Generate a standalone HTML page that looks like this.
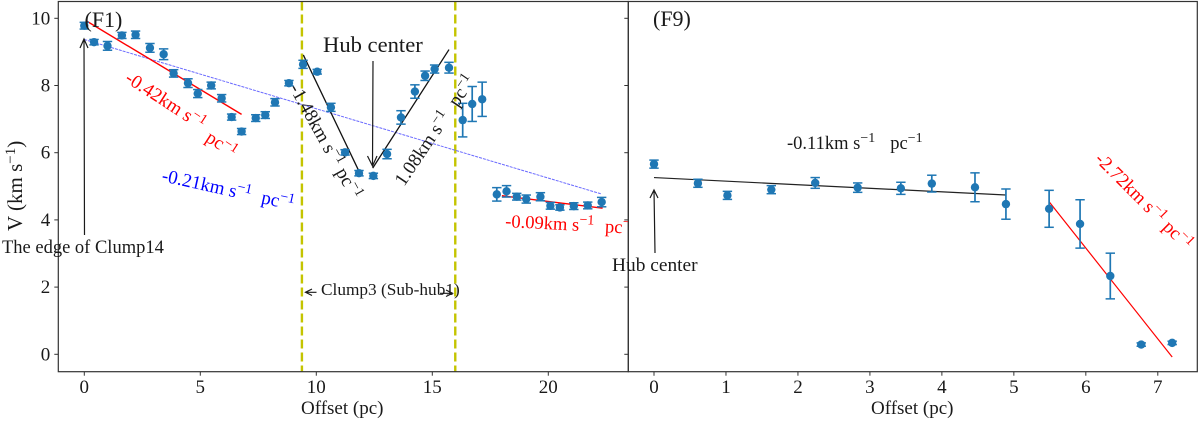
<!DOCTYPE html>
<html lang="en">
<head>
<meta charset="utf-8">
<title>Velocity profiles F1 and F9</title>
<style>
html,body{margin:0;padding:0;background:#fff;width:1200px;height:421px;overflow:hidden}
svg{display:block;filter:blur(0.35px)}
text{font-family:"Liberation Serif","DejaVu Serif",serif;fill:#1a1a1a}
</style>
</head>
<body>
<svg id="chart" xmlns="http://www.w3.org/2000/svg" width="1200" height="421" viewBox="0 0 1200 421">
  <defs>
    <clipPath id="leftClip"><rect x="58" y="0" width="570" height="372"/></clipPath>
  </defs>
  <rect x="0" y="0" width="1200" height="421" fill="#fff"/>
  <g id="marks"></g>

  <g clip-path="url(#leftClip)">
    <text transform="translate(124,81) rotate(33)" font-size="19" style="fill:#f00">-0.42km s<tspan dy="-7" font-size="14">−1</tspan><tspan dy="13" dx="9">pc</tspan><tspan dy="-6" font-size="14">−1</tspan></text>
    <text transform="translate(161,181) rotate(12.5)" font-size="19" style="fill:#00f">-0.21km s<tspan dy="-7" font-size="14">−1</tspan><tspan dy="7" dx="11">pc</tspan><tspan dy="-7" font-size="14">−1</tspan></text>
    <text transform="translate(289,88) rotate(61)" font-size="19">-1.48km s<tspan dy="-7" font-size="14">−1</tspan><tspan dy="7" dx="5">pc</tspan><tspan dy="-7" font-size="14">−1</tspan></text>
    <text transform="translate(404,187) rotate(-56)" font-size="19">1.08km s<tspan dy="-7" font-size="14">−1</tspan><tspan dy="7" dx="11">pc</tspan><tspan dy="-7" font-size="14">−1</tspan></text>
    <text transform="translate(505,227) rotate(3)" font-size="18.5" style="fill:#f00">-0.09km s<tspan dy="-7" font-size="14">−1</tspan><tspan dy="7" dx="11">pc</tspan><tspan dy="-7" font-size="14">−1</tspan></text>
    <text x="323" y="52" font-size="22.6">Hub center</text>
    <text x="321" y="295" font-size="17.3">Clump3 (Sub-hub1)</text>
    <text x="84.5" y="27" font-size="22">(F1)</text>
  </g>

  <g>
    <text x="653" y="26" font-size="22">(F9)</text>
    <text x="787" y="149" font-size="18.5">-0.11km s<tspan dy="-7" font-size="14">−1</tspan><tspan dy="7" dx="15">pc</tspan><tspan dy="-7" font-size="14">−1</tspan></text>
    <text transform="translate(1094,160) rotate(45)" font-size="19" style="fill:#f00">-2.72km s<tspan dy="-7" font-size="14">−1</tspan><tspan dy="7" dx="5">pc</tspan><tspan dy="-7" font-size="14">−1</tspan></text>
    <text x="612" y="271" font-size="19.4">Hub center</text>
  </g>

  <text x="2" y="253" font-size="18.5">The edge of Clump14</text>

  <g fill="none" stroke="#1a1a1a" stroke-width="1.2">
    <path d="M84.5 235 L84 39 M80 48 L84 39 L88 48"/>
    <path d="M373 61 L372.5 166 M367.5 156 L372.5 166 L377 156"/>
    <path d="M655 253 L654 190 M650 198 L654 190 L658 198"/>
    <path d="M316.5 292.3 L305.5 292.3 M312 289 L305.5 292.3 L312 295.5"/>
    <path d="M440 293.3 L452.5 293.3 M446 290 L452.5 293.3 L446 296.5"/>
  </g>

  <text transform="translate(22,231) rotate(-90)" font-size="21">V (km s<tspan dy="-7" font-size="15">−1</tspan><tspan dy="7">)</tspan></text>
  <text x="301" y="414" font-size="19">Offset (pc)</text>
  <text x="871" y="414" font-size="19">Offset (pc)</text>
</svg>

<script>
// Panel F1 data
const f1Offsets = [0,0.42,1.0,1.62,2.21,2.83,3.42,3.85,4.47,4.89,5.47,5.92,6.35,6.78,7.39,7.8,8.22,8.82,9.43,10.04,10.63,11.24,11.84,12.46,13.05,13.65,14.25,14.69,15.1,15.72,16.31,16.72,17.15,17.78,18.2,18.64,19.05,19.66,20.09,20.5,21.1,21.7,22.3];
const f1Velocities = [9.78,9.29,9.18,9.49,9.51,9.12,8.93,8.36,8.07,7.76,8.0,7.62,7.06,6.63,7.03,7.12,7.5,8.07,8.63,8.41,7.35,6.01,5.39,5.31,5.96,7.05,7.82,8.29,8.49,8.53,6.97,7.45,7.59,4.76,4.85,4.69,4.62,4.69,4.42,4.37,4.41,4.43,4.53];
const f1Errors = [0.1,0.08,0.13,0.09,0.11,0.13,0.16,0.11,0.13,0.12,0.1,0.11,0.09,0.09,0.1,0.1,0.11,0.08,0.12,0.07,0.12,0.08,0.08,0.08,0.14,0.2,0.2,0.14,0.12,0.16,0.5,0.52,0.51,0.2,0.17,0.1,0.12,0.12,0.1,0.08,0.1,0.1,0.14];

// Panel F9 data
const f9Offsets = [0,0.61,1.02,1.63,2.24,2.83,3.43,3.86,4.46,4.89,5.49,5.92,6.34,6.77,7.2];
const f9Velocities = [5.66,5.09,4.73,4.9,5.1,4.96,4.94,5.08,4.97,4.47,4.33,3.88,2.33,0.29,0.34];
const f9Errors = [0.12,0.12,0.12,0.12,0.16,0.14,0.18,0.25,0.43,0.45,0.55,0.72,0.68,0.05,0.05];

// Fit lines: [x0, x1] and [v0, v1] in data units
const fitRedSteepX = [0.07,6.78];
const fitRedSteepV = [9.93,7.14];
const fitBlueX = [0,22.3];
const fitBlueV = [9.37,4.77];
const fitRedFlatX = [18.0,22.34];
const fitRedFlatV = [4.72,4.35];
const fitBlackDownX = [9.44,11.81];
const fitBlackDownV = [8.91,5.49];
const fitBlackUpX = [12.43,15.72];
const fitBlackUpV = [5.54,9.07];
const fitF9BlackX = [0,4.89];
const fitF9BlackV = [5.26,4.74];
const fitF9RedX = [5.49,7.2];
const fitF9RedV = [4.54,-0.08];

// Clump3 boundaries in pc
const clumpBounds = [9.38,15.99];

// Tick labels
const yTicks = [0,2,4,6,8,10];
const f1XTicks = [0,5,10,15,20];
const f9XTicks = [0,1,2,3,4,5,6,7];

const NS = 'http://www.w3.org/2000/svg';
const root = document.getElementById('marks');

const xF1 = v => 84.3 + 23.2 * v;
const xF9 = v => 654 + 71.97 * v;
const yV = v => 354.3 - 33.6 * v;

const TOP = 1.5, BOTTOM = 371.7, LEFT = 58.3, MID = 628.3, RIGHT = 1197.3;
const POINT = '#1f77b4';

function line(x1, y1, x2, y2, stroke, width) {
  const el = document.createElementNS(NS, 'line');
  el.setAttribute('x1', x1);
  el.setAttribute('y1', y1);
  el.setAttribute('x2', x2);
  el.setAttribute('y2', y2);
  el.setAttribute('stroke', stroke);
  el.setAttribute('stroke-width', width);
  root.appendChild(el);
  return el;
}

function label(x, y, str, anchor) {
  const el = document.createElementNS(NS, 'text');
  el.setAttribute('x', x);
  el.setAttribute('y', y);
  el.setAttribute('font-size', '19');
  el.setAttribute('text-anchor', anchor);
  el.textContent = str;
  root.appendChild(el);
  return el;
}

function drawFit(xs, vs, xFn, stroke, width, name) {
  const el = line(xFn(xs[0]), yV(vs[0]), xFn(xs[1]), yV(vs[1]), stroke, width);
  
  
  return el;
}

function drawSeries(xs, vs, es, xFn, panel) {
  xs.forEach((x, i) => {
    const cx = xFn(x);
    const top = yV(vs[i] + es[i]);
    const bot = yV(vs[i] - es[i]);
    const bar = line(cx, top, cx, bot, POINT, 1.7);
    
    
    const capTop = line(cx - 4.7, top, cx + 4.7, top, POINT, 1.5);
    
    
    const capBot = line(cx - 4.7, bot, cx + 4.7, bot, POINT, 1.5);
    
    
    const dot = document.createElementNS(NS, 'circle');
    dot.setAttribute('cx', cx);
    dot.setAttribute('cy', yV(vs[i]));
    dot.setAttribute('r', 4.2);
    dot.setAttribute('fill', POINT);
    
    
    root.appendChild(dot);
  });
}

// Clump boundaries
clumpBounds.forEach(b => {
  const el = line(xF1(b), TOP, xF1(b), BOTTOM, '#c4c400', 2.4);
  el.setAttribute('stroke-dasharray', '9 4');
  
  
});

// Fit lines, panel F1
const blueFit = drawFit(fitBlueX, fitBlueV, xF1, '#6a6aff', 1, 'fit-line-blue');
blueFit.setAttribute('stroke-dasharray', '3 1');
drawFit(fitRedSteepX, fitRedSteepV, xF1, '#f00', 1.4, 'fit-line-red-steep');
drawFit(fitRedFlatX, fitRedFlatV, xF1, '#f00', 1.4, 'fit-line-red-flat');
drawFit(fitBlackDownX, fitBlackDownV, xF1, '#111', 1.3, 'fit-line-black-down');
drawFit(fitBlackUpX, fitBlackUpV, xF1, '#111', 1.3, 'fit-line-black-up');

// Fit lines, panel F9
drawFit(fitF9BlackX, fitF9BlackV, xF9, '#222', 1.2, 'fit-line-f9-black');
drawFit(fitF9RedX, fitF9RedV, xF9, '#f00', 1.2, 'fit-line-f9-red');

drawSeries(f1Offsets, f1Velocities, f1Errors, xF1, 'f1');
drawSeries(f9Offsets, f9Velocities, f9Errors, xF9, 'f9');

// Axes
yTicks.forEach(t => {
  const a = line(LEFT - 4, yV(t), LEFT, yV(t), '#333', 1);
  
  
  const b = line(MID - 4, yV(t), MID, yV(t), '#333', 1);
  
  
  const l = label(LEFT - 8, yV(t) + 6, String(t), 'end');
  
  
});
f1XTicks.forEach(t => {
  const a = line(xF1(t), BOTTOM, xF1(t), BOTTOM + 4, '#333', 1);
  
  
  const l = label(xF1(t), 393, String(t), 'middle');
  
  
});
f9XTicks.forEach(t => {
  const a = line(xF9(t), BOTTOM, xF9(t), BOTTOM + 4, '#333', 1);
  
  
  const l = label(xF9(t), 393, String(t), 'middle');
  
  
});

// Panel frames
const frameLeft = document.createElementNS(NS, 'rect');
frameLeft.setAttribute('x', LEFT);
frameLeft.setAttribute('y', TOP);
frameLeft.setAttribute('width', MID - LEFT);
frameLeft.setAttribute('height', BOTTOM - TOP);
frameLeft.setAttribute('fill', 'none');
frameLeft.setAttribute('stroke', '#333');
frameLeft.setAttribute('stroke-width', '1.2');


root.appendChild(frameLeft);

const frameRight = document.createElementNS(NS, 'rect');
frameRight.setAttribute('x', MID);
frameRight.setAttribute('y', TOP);
frameRight.setAttribute('width', RIGHT - MID);
frameRight.setAttribute('height', BOTTOM - TOP);
frameRight.setAttribute('fill', 'none');
frameRight.setAttribute('stroke', '#333');
frameRight.setAttribute('stroke-width', '1.2');


root.appendChild(frameRight);
</script>
</body>
</html>
